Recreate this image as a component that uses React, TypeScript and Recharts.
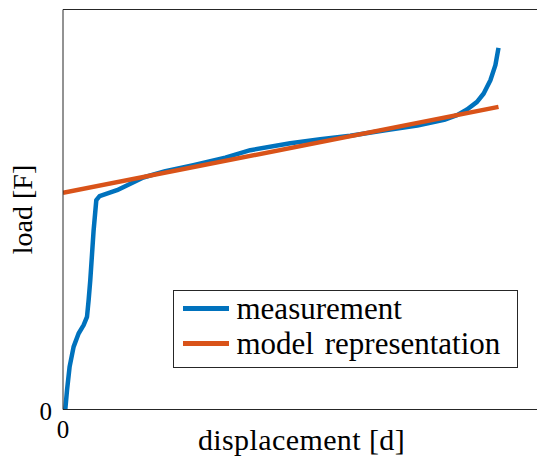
import { LineChart, Line, XAxis, YAxis, ReferenceLine } from 'recharts';

const measX = [0.48, 0.84, 1.38, 2.22, 3.27, 4.32, 5.03, 5.37, 5.72, 6.42, 6.98, 7.67, 11.32, 16.83, 21.45, 27.32, 34.03, 39.27, 47.65, 53.94, 60.23, 67.57, 74.28, 79.9, 82.6, 84.7, 86.8, 88.2, 89.6, 90.65, 91.3];
const measY = [0, 4.83, 10.65, 15.65, 19.0, 21.08, 23.15, 27.33, 32.33, 44.83, 52.33, 53.33, 54.83, 58.0, 59.58, 61.08, 62.95, 64.83, 66.58, 67.58, 68.45, 69.83, 71.0, 72.4, 73.6, 75.0, 76.9, 79.0, 82.3, 86.1, 90.4];

// linear model, two end points
const modelX = [0, 91.3];
const modelY = [54.15, 75.65];

const xTicks = [0];
const yTicks = [0];
const seriesNames = ['measurement', 'model representation'];
const seriesColors = ['#0072BD', '#D95319'];

const measurement = measX.map((x, i) => ({ x, y: measY[i] }));
const model = modelX.map((x, i) => ({ x, y: modelY[i] }));

const FONT = "'Liberation Serif', 'Times New Roman', serif";
const AXIS = '#262626';

export default function App() {
    return (
        <div style={{ position: 'fixed', left: 0, top: 0, width: 537, height: 457, overflow: 'hidden', background: '#fff' }}>
            <LineChart width={540} height={457} margin={{ top: 9.5, right: 0, left: 0, bottom: 0 }}>
                <XAxis
                    type="number"
                    dataKey="x"
                    domain={[0, 100]}
                    ticks={xTicks}
                    height={47.5}
                    allowDataOverflow
                    axisLine={{ stroke: AXIS, strokeWidth: 1 }}
                    tickLine={false}
                    tickSize={0}
                    tickMargin={10.5}
                    tick={{ fill: '#000', fontSize: 25, fontFamily: FONT }}
                    label={{ value: 'displacement [d]', position: 'insideBottom', offset: 7, fill: '#000', fontSize: 30, fontFamily: FONT, style: { letterSpacing: '0.4px' } }}
                />
                <YAxis
                    type="number"
                    dataKey="y"
                    domain={[0, 100]}
                    ticks={yTicks}
                    width={63}
                    allowDataOverflow
                    axisLine={{ stroke: AXIS, strokeWidth: 1 }}
                    tickLine={false}
                    tickSize={0}
                    tickMargin={11}
                    tick={{ fill: '#000', fontSize: 25, fontFamily: FONT, dy: 2 }}
                    label={{ value: 'load [F]', angle: -90, position: 'insideLeft', offset: 22, fill: '#000', fontSize: 28, fontFamily: FONT, style: { textAnchor: 'middle' } }}
                />
                <ReferenceLine y={100} stroke={AXIS} strokeWidth={1} />
                <ReferenceLine x={100} stroke={AXIS} strokeWidth={1} />
                <Line
                    data={measurement}
                    dataKey="y"
                    name={seriesNames[0]}
                    type="linear"
                    stroke={seriesColors[0]}
                    strokeWidth={4.5}
                    strokeLinejoin="round"
                    dot={false}
                    isAnimationActive={false}
                />
                <Line
                    data={model}
                    dataKey="y"
                    name={seriesNames[1]}
                    type="linear"
                    stroke={seriesColors[1]}
                    strokeWidth={4.5}
                    dot={false}
                    isAnimationActive={false}
                />
            </LineChart>
            <div style={{
                position: 'absolute', left: 173, top: 290, width: 345, height: 78,
                border: `1px solid ${AXIS}`, background: '#fff', boxSizing: 'border-box',
                fontFamily: FONT, fontSize: 31, lineHeight: '35px', color: '#000', wordSpacing: '3px'
            }}>
                {seriesNames.map((n, i) => (
                    <div key={n} style={{ display: 'flex', alignItems: 'center', height: 35 }}>
                        <div style={{ width: 46, height: 4.5, marginLeft: 9, marginRight: 7.5, background: seriesColors[i] }} />
                        <span>{n}</span>
                    </div>
                ))}
            </div>
        </div>
    );
}
